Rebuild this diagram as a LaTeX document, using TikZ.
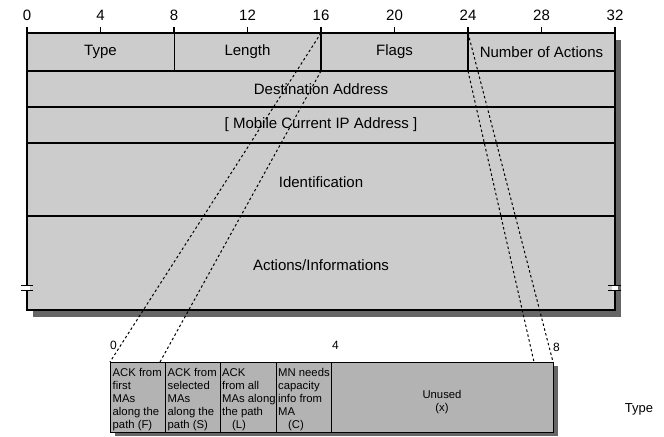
\documentclass[tikz,border=0pt]{standalone}
\usepackage{fontspec}
\setmainfont{Liberation Sans}
\definecolor{fieldgray}{HTML}{CCCCCC}
\definecolor{flaggray}{HTML}{B3B3B3}
\definecolor{shadowgray}{HTML}{666666}
\begin{document}
\begin{tikzpicture}[x=1bp,y=-1bp,
  fieldlbl/.style={font=\fontsize{15bp}{18bp}\selectfont, inner sep=0pt},
  bitnum/.style={font=\fontsize{15bp}{18bp}\selectfont, inner sep=0pt},
  flagnum/.style={font=\fontsize{12bp}{14bp}\selectfont, inner sep=0pt, anchor=west},
  flagtxt/.style={font=\fontsize{11.3bp}{13bp}\selectfont, align=left, anchor=north west, inner sep=0pt},
  zoomline/.style={line width=1bp, dash pattern=on 2.5bp off 2.5bp},
  rowline/.style={line width=1.6bp},
  tickmark/.style={line width=1.5bp}]
\useasboundingbox (0,0) rectangle (664,437);

% ---------- header frame: shadow, body, rows ----------
\fill[shadowgray] (33,40) rectangle (621,317);
\draw[fill=fieldgray, line width=2bp] (27,33) rectangle (615,310);
\draw[rowline] (27,71) -- (615,71);
\draw[rowline] (27,107) -- (615,107);
\draw[rowline] (27,143) -- (615,143);
\draw[rowline] (27,216) -- (615,216);
\draw[line width=1bp] (174,33) -- (174,71);
\draw[line width=2bp] (321,33) -- (321,71);
\draw[line width=2bp] (468,33) -- (468,71);

% bit ruler
\foreach \b in {0,4,...,32}{
  \draw[tickmark] ({27+\b*18.375},27) -- ({27+\b*18.375},33);
  \node[bitnum] (bit\b) at ({27+\b*18.375},15) {\b};
}

% field labels
\node[fieldlbl] (type)   at (100.5,52) {Type};
\node[fieldlbl] (length) at (247.5,52) {Length};
\node[fieldlbl] (flags)  at (394.5,52) {Flags};
\node[fieldlbl] (nact)   at (541.5,52) {Number of Actions};
\node[fieldlbl] (dest)   at (321,89)  {Destination Address};
\node[fieldlbl] (mcip)   at (321,125) {[ Mobile Current IP Address ]};
\node[fieldlbl] (ident)  at (321,182) {Identification};
\node[fieldlbl] (acts)   at (321,265) {Actions/Informations};

% ---------- flags detail box ----------
\fill[shadowgray] (115,366) rectangle (558,436);
\draw[fill=flaggray, line width=1bp] (110,362) rectangle (553,432);
\foreach \x in {165.4,220.8,276.3,331.7}
  \draw[line width=1bp] (\x,362) -- (\x,432);

\node[flagnum] (f0) at (110,345) {0};
\node[flagnum] (f4) at (332,345) {4};
\node[flagnum] (f8) at (553,347) {8};

\node[flagtxt] (flagF) at (112.5,368) {ACK from\\first\\MAs\\along the\\path (F)};
\node[flagtxt] (flagS) at (167.5,368) {ACK from\\selected\\MAs\\along the\\path (S)};
\node[flagtxt] (flagL) at (222,368) {ACK\\from all\\MAs along\\the path\\\hspace*{10bp}(L)};
\node[flagtxt] (flagC) at (278,368) {MN needs\\capacity\\info from\\MA\\\hspace*{10bp}(C)};
\node[font=\fontsize{11.3bp}{13bp}\selectfont, align=center, inner sep=0pt] (unused) at (442,402) {Unused\\(x)};

\node[font=\fontsize{13bp}{15bp}\selectfont, inner sep=0pt] (typelbl) at (639,409) {Type};

% ---------- zoom connectors from the Flags field ----------
\coordinate (flagsTL) at (321,33);
\coordinate (flagsBL) at (321,71);
\coordinate (flagsTR) at (468,33);
\coordinate (flagsBR) at (468,71);
\coordinate (detTL) at (110,362);
\coordinate (detA)  at (160,362);
\coordinate (detB)  at (534,362);
\coordinate (detTR) at (553,362);
\draw[zoomline] (flagsTL) -- (detTL);
\draw[zoomline] (flagsBL) -- (detA);
\draw[zoomline] (flagsTR) -- (detTR);
\draw[zoomline] (flagsBR) -- (detB);

% ---------- break marks on the frame sides ----------
\fill[white] (23,286.5) rectangle (30,290);
\fill[white] (612,286.5) rectangle (618,290);
\draw[line width=1bp] (21,286) -- (33,286) (21,290.5) -- (33,290.5);
\draw[line width=1bp] (608,286) -- (621,286) (608,290.5) -- (621,290.5);
\end{tikzpicture}
\end{document}
